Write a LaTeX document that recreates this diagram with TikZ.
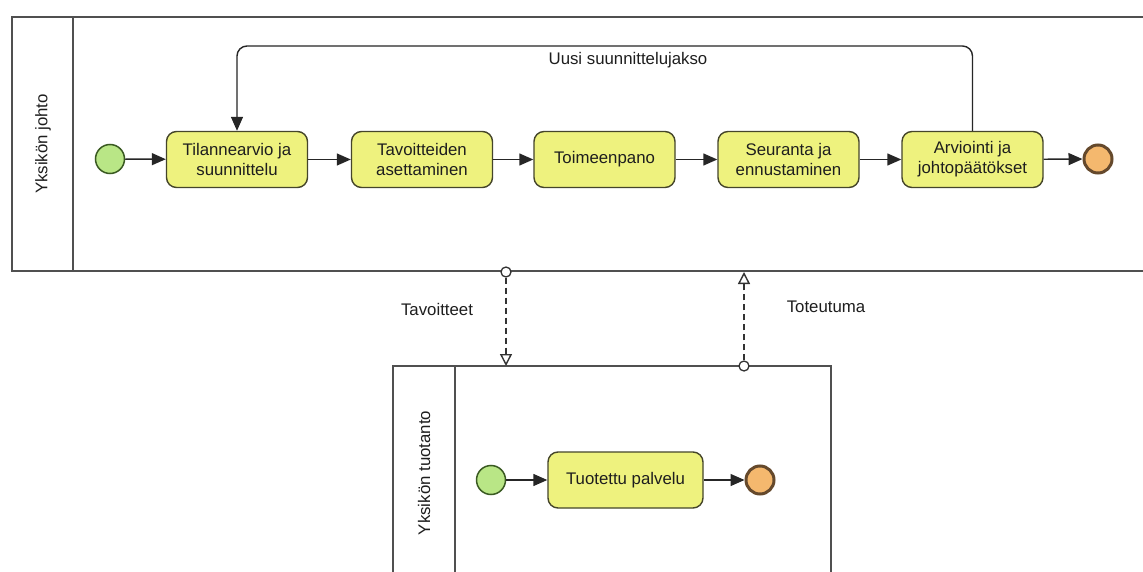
\documentclass[tikz,border=0pt]{standalone}
\usepackage{fontspec}
\setmainfont{Liberation Sans}
\usetikzlibrary{arrows.meta}
\definecolor{taskfill}{HTML}{EEF27E}
\definecolor{taskline}{HTML}{45452A}
\definecolor{startfill}{HTML}{B9E686}
\definecolor{startline}{HTML}{3A5A22}
\definecolor{endfill}{HTML}{F4B86E}
\definecolor{endline}{HTML}{65492C}
\definecolor{poolline}{HTML}{505050}
\definecolor{txt}{HTML}{1E1E1E}
\begin{document}
\begin{tikzpicture}[x=1pt,y=-1pt,
  every node/.style={text=txt, font=\fontsize{16.8}{20}\selectfont},
  task/.style={draw=taskline, fill=taskfill, line width=1.4pt, rounded corners=10pt,
    minimum width=141pt, minimum height=56pt, align=center, inner sep=2pt},
  startev/.style={circle, draw=startline, fill=startfill, line width=1.5pt,
    minimum size=29pt, inner sep=0pt},
  endev/.style={circle, draw=endline, fill=endfill, line width=3pt,
    minimum size=28pt, inner sep=0pt},
  pool/.style={draw=poolline, line width=1.5pt},
  seqflow/.style={draw=black!85, line width=1.4pt, -{Triangle[length=14pt,width=12pt]}},
  msgflow/.style={draw=black!80, line width=1.2pt, dash pattern=on 6pt off 4pt,
    -{Triangle[open,length=12pt,width=12pt,line width=1.4pt]}},
  msgdot/.style={circle, draw=black!80, fill=white, line width=1.3pt,
    minimum size=10pt, inner sep=0pt},
  poollabel/.style={rotate=90},
  flowlabel/.style={}]
\useasboundingbox (0,0) rectangle (1143,572);
\fill[white] (0,0) rectangle (1143,572);

% pools
\draw[pool] (1160,17) -- (12,17) -- (12,271) -- (1160,271);
\draw[pool] (73,17) -- (73,271);
\node[poollabel] (poolA) at (43,144) {Yksikön johto};

\draw[pool] (393,590) -- (393,366) -- (831,366) -- (831,590);
\draw[pool] (455,366) -- (455,590);
\node[poollabel] (poolB) at (424,473) {Yksikön tuotanto};

% upper process
\node[startev] (s1) at (110,159) {};
\node[task] (t1) at (237,159.5) {Tilannearvio ja\\suunnittelu};
\node[task] (t2) at (422,159.5) {Tavoitteiden\\asettaminen};
\node[task] (t3) at (604.5,159.5) {Toimeenpano};
\node[task] (t4) at (788.5,159.5) {Seuranta ja\\ennustaminen};
\node[task] (t5) at (972.5,159.5) {Arviointi ja\\johtopäätökset};
\node[endev] (e1) at (1098,159) {};

\draw[seqflow] (s1) -- (t1);
\draw[seqflow] (t1) -- (t2);
\draw[seqflow] (t2) -- (t3);
\draw[seqflow] (t3) -- (t4);
\draw[seqflow] (t4) -- (t5);
\draw[seqflow] (t5) -- (e1);
\draw[seqflow, rounded corners=10pt] (t5.north) -- (972.5,46) -- (237,46) -- (t1.north);
\node[flowlabel] (loop) at (628,60) {Uusi suunnittelujakso};

% lower process
\node[startev] (s2) at (491,480) {};
\node[task, minimum width=155pt] (t6) at (625.5,480) {Tuotettu palvelu};
\node[endev] (e2) at (760,480) {};
\draw[seqflow] (s2) -- (t6);
\draw[seqflow] (t6) -- (e2);

% message flows between the pools
\node[msgdot] (m1) at (506,272) {};
\coordinate (m1end) at (506,366);
\draw[msgflow] (m1) -- (m1end);
\node[flowlabel] (lab1) at (437,309) {Tavoitteet};

\node[msgdot] (m2) at (744,366) {};
\coordinate (m2end) at (744,272);
\draw[msgflow] (m2) -- (m2end);
\node[flowlabel] (lab2) at (826,307) {Toteutuma};
\end{tikzpicture}
\end{document}
